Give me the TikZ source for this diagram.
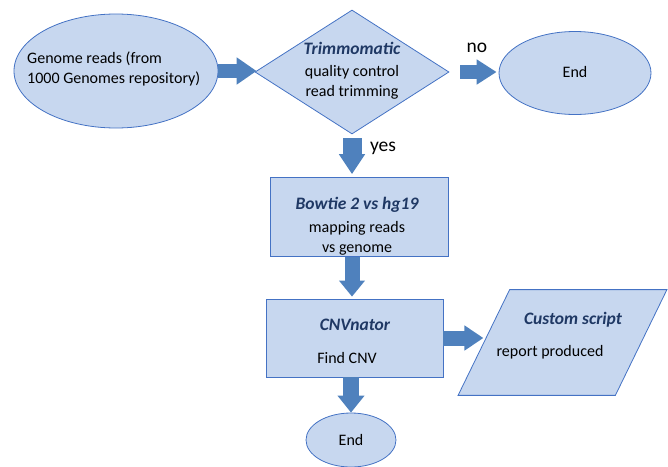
\documentclass[tikz,border=0pt]{standalone}
\usepackage{fontspec}
\setmainfont{Carlito}
\usetikzlibrary{shapes.geometric,arrows.meta}
\definecolor{boxfill}{HTML}{C7D7EF}
\definecolor{boxline}{HTML}{4472C4}
\definecolor{arrowblue}{HTML}{4F81BD}
\definecolor{titleblue}{HTML}{1F3864}
\newcommand{\ttl}[1]{{\fontsize{17.5}{20}\selectfont\color{titleblue}\bfseries\itshape #1}}

\begin{document}
\begin{tikzpicture}[x=1pt,y=-1pt,
    box/.style={draw=boxline,fill=boxfill,line width=0.8pt,inner sep=0pt},
    txt/.style={inner sep=0pt,font=\fontsize{16}{20}\selectfont,align=center},
    lbl/.style={inner sep=0pt,font=\fontsize{19.5}{22}\selectfont},
    blk/.style n args={3}{draw=arrowblue,line width=#1,-{Triangle[length=#2,width=#3]}}]
    \useasboundingbox (0,0) rectangle (668,466);
    \node[box,ellipse,minimum width=204pt,minimum height=114pt] (genome) at (116,71) {};
    \node[box,diamond,minimum width=194pt,minimum height=124pt] (trim) at (352,72) {};
    \node[box,ellipse,minimum width=152pt,minimum height=83pt] (end1) at (575,73) {};
    \node[box,minimum width=178pt,minimum height=79pt] (bowtie) at (359,217) {};
    \node[box,minimum width=177pt,minimum height=78pt] (cnv) at (354.5,338) {};
    \node[box,trapezium,inner sep=2pt,trapezium left angle=64,trapezium right angle=116,
        minimum width=209pt,minimum height=85pt] (script) at (562.5,342.5) {};
    \node[box,ellipse,minimum width=90pt,minimum height=54pt] (end2) at (351,440) {};

    \node[txt,align=left,anchor=west] (genometxt) at (27,69) {Genome reads (from\\1000 Genomes repository)};
    \node[txt] (trimtxt) at (352,71) {\ttl{Trimmomatic}\\[2pt]quality control\\read trimming};
    \node[txt] (end1txt) at (575,72) {End};
    \node[txt] (bowtietxt) at (357,226) {\ttl{Bowtie 2 vs hg19}\\[3pt]mapping reads\\vs genome};
    \node[txt] (cnvttl) at (355,325) {\ttl{CNVnator}};
    \node[txt] (cnvtxt) at (347,358) {Find CNV};
    \node[txt] (scriptttl) at (573,320) {\ttl{Custom script}};
    \node[txt] (scripttxt) at (550,352) {report produced};
    \node[txt] (end2txt) at (351,440) {End};
    \node[lbl] (nolbl) at (477,48) {no};
    \node[lbl] (yeslbl) at (383,148) {yes};

    \draw[blk={14pt}{20pt}{26pt},shorten >=-2pt] (genome.east) -- (genome.east -| trim.west);
    \draw[blk={14pt}{20pt}{24pt},shorten <=11pt,shorten >=2pt] (trim.east) -- (trim.east -| end1.west);
    \draw[blk={19pt}{20pt}{25pt},shorten <=4pt,shorten >=3pt] (trim.south) -- (trim.south |- bowtie.north);
    \draw[blk={15pt}{16pt}{25pt},shorten >=2pt] (trim.south |- bowtie.south) -- (trim.south |- cnv.north);
    \draw[blk={15pt}{19pt}{24pt}] (cnv.east) -- (cnv.east -| script.west);
    \draw[blk={16pt}{17pt}{26pt}] (end2 |- cnv.south) -- (end2.north);
\end{tikzpicture}
\end{document}
